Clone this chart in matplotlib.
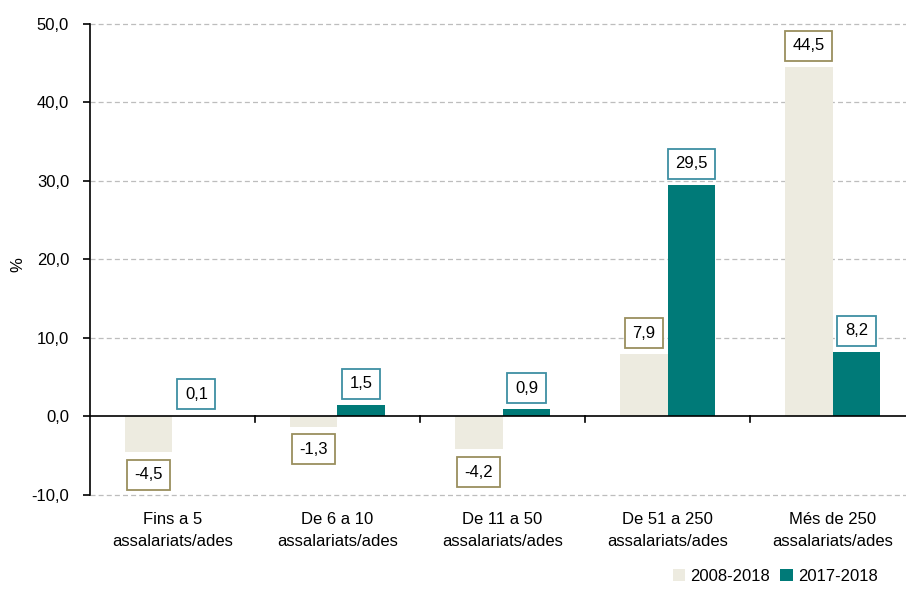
import matplotlib.pyplot as plt
import numpy as np

plt.rcParams['font.family'] = ['Liberation Sans', 'DejaVu Sans']

categories = ['Fins a 5\nassalariats/ades', 'De 6 a 10\nassalariats/ades',
              'De 11 a 50\nassalariats/ades', 'De 51 a 250\nassalariats/ades',
              'Més de 250\nassalariats/ades']
v_2008_2018 = [-4.5, -1.3, -4.2, 7.9, 44.5]
v_2017_2018 = [0.1, 1.5, 0.9, 29.5, 8.2]
series_names = ['2008-2018', '2017-2018']

col_a = '#EDEBE0'
col_b = '#007A78'
edge_a = '#9A8F5E'
edge_b = '#3E8FA3'
fs = 12

fig = plt.figure(figsize=(9.06, 5.97), dpi=100)
ax = fig.add_axes([0.0993, 0.1709, 0.9007, 0.7889])

x = np.arange(len(categories))
w = 0.29
ax.bar(x - w/2, v_2008_2018, w, color=col_a, label=series_names[0], zorder=2)
ax.bar(x + w/2, v_2017_2018, w, color=col_b, label=series_names[1], zorder=2)

ax.set_ylim(-10, 50)
ax.set_xlim(-0.5, 4.445)
yt = np.arange(-10, 51, 10)
ax.set_yticks(yt)
ax.set_yticklabels([f'{t:.1f}'.replace('.', ',') for t in yt], fontsize=fs)
for t in yt:
    if t != 0:
        ax.axhline(t, color='#BDBDBD', lw=0.9, ls=(0, (4, 2.5)), zorder=1, clip_on=False)
ax.axhline(0, color='black', lw=1.2, zorder=3)

for s in ['top', 'right', 'bottom']:
    ax.spines[s].set_visible(False)
ax.spines['left'].set_linewidth(1.2)
ax.tick_params(axis='y', length=5, width=1.2, pad=10)
ax.set_xticks(x)
ax.set_xticklabels(categories, fontsize=fs, linespacing=1.6)
ax.tick_params(axis='x', length=0, pad=12)

# small separator ticks on the zero line
for b in np.arange(0.5, 4.0, 1.0):
    ax.plot([b, b], [0, -0.7], color='black', lw=1.2, zorder=3)

fig.text(18 / 906, 1 - 265 / 597, '%', rotation=90, ha='center', va='center', fontsize=fs)

def put_labels(xs, vals, edge):
    for xi, v in zip(xs, vals):
        off = 2.7 if v >= 0 else -2.9
        ax.text(xi, v + off, f'{v:.1f}'.replace('.', ','), ha='center', va='center',
                fontsize=fs, zorder=5,
                bbox=dict(boxstyle='square,pad=0.45', fc='white', ec=edge, lw=1.3))

put_labels(x - w/2, v_2008_2018, edge_a)
put_labels(x + w/2, v_2017_2018, edge_b)

fig.legend(loc='lower right', bbox_to_anchor=(0.985, -0.003), ncol=2, frameon=False,
           fontsize=fs, handlelength=0.75, handleheight=0.75, handletextpad=0.3,
           columnspacing=0.6)

fig.savefig('out.png', dpi=100)
